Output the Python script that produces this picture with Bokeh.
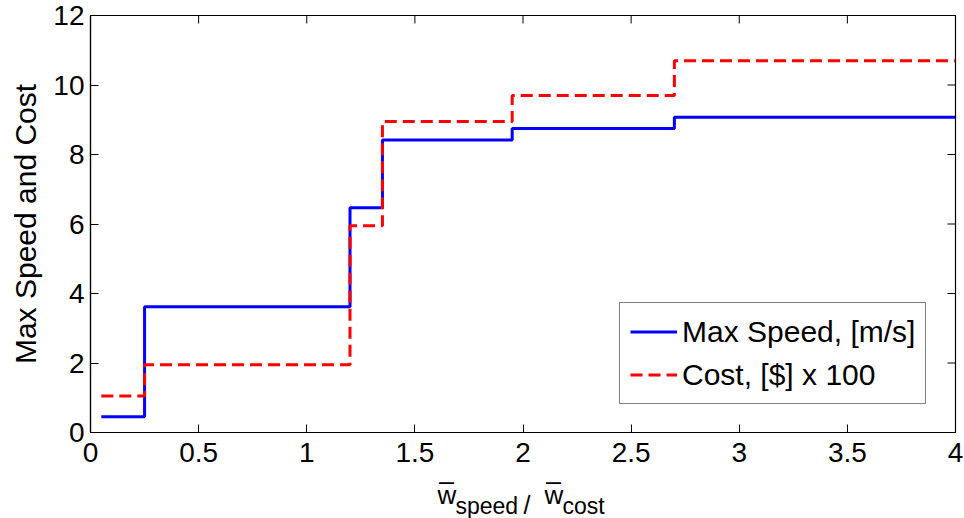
import math
from bokeh.plotting import figure
from bokeh.layouts import column
from bokeh.models import Range1d, FixedTicker, Legend, LegendItem
from bokeh.core.properties import value
from bokeh.embed import file_html
from bokeh.resources import INLINE

# ---- data ----
x_steps = [0.05, 0.25, 1.2, 1.35, 1.95, 2.7, 4.0]
max_speed = [0.45, 3.62, 6.47, 8.42, 8.75, 9.07, 9.07]
cost_x100 = [1.05, 1.95, 5.95, 8.95, 9.70, 10.70, 10.70]

x_ticks = [0, 0.5, 1, 1.5, 2, 2.5, 3, 3.5, 4]
x_tick_labels = ["0", "0.5", "1", "1.5", "2", "2.5", "3", "3.5", "4"]
y_ticks = [0, 2, 4, 6, 8, 10, 12]
y_tick_labels = ["0", "2", "4", "6", "8", "10", "12"]

series_names = ["Max Speed, [m/s]", "Cost, [$] x 100"]
y_label = "Max Speed and Cost"
x_label_parts = ["w\u0305", "speed", "/", "w\u0305", "cost"]

FONT = "Liberation Sans"
X0, X1, Y0, Y1 = 0, 4, 0, 12

p = figure(width=964, height=478, output_backend="svg", toolbar_location=None,
           x_range=Range1d(X0, X1), y_range=Range1d(Y0, Y1),
           min_border_left=90, min_border_right=9, min_border_top=15, min_border_bottom=46)
p.background_fill_color = "white"
p.border_fill_color = "white"
p.outline_line_color = "black"
p.outline_line_width = 1.2
p.xgrid.visible = False
p.ygrid.visible = False

def style_axis(ax, ticks, labels):
    ax.ticker = FixedTicker(ticks=ticks)
    ax.major_label_overrides = {t: l for t, l in zip(ticks, labels)}
    ax.major_tick_in = 8
    ax.major_tick_out = 0
    ax.minor_tick_line_color = None
    ax.axis_line_color = "black"
    ax.axis_line_width = 1.2
    ax.major_tick_line_color = "black"
    ax.major_tick_line_width = 1
    ax.major_label_text_font = FONT
    ax.major_label_text_color = "black"
    ax.major_label_text_font_size = "28px"

style_axis(p.xaxis[0], x_ticks, x_tick_labels)
style_axis(p.yaxis[0], y_ticks, y_tick_labels)
p.xaxis[0].major_label_standoff = 10
p.yaxis[0].major_label_standoff = 6
p.yaxis[0].axis_label = y_label
p.yaxis[0].axis_label_text_font = FONT
p.yaxis[0].axis_label_text_font_size = "30px"
p.yaxis[0].axis_label_text_font_style = "normal"
p.yaxis[0].axis_label_text_color = "black"
p.yaxis[0].axis_label_standoff = 8

# inward ticks on the top and right edges of the box (half of each dash is clipped by the frame)
p.scatter(x=x_ticks, y=[Y1] * len(x_ticks), marker="dash", size=16, angle=math.pi / 2,
          line_color="black", line_width=1)
p.scatter(x=[X1] * len(y_ticks), y=y_ticks, marker="dash", size=16,
          line_color="black", line_width=1)

r_speed = p.step(x_steps, max_speed, mode="after", line_color="#0000FF", line_width=3)
r_cost = p.step(x_steps, cost_x100, mode="after", line_color="#FF0000", line_width=3,
                line_dash="12 6")

legend = Legend(items=[LegendItem(label=series_names[0], renderers=[r_speed]),
                       LegendItem(label=series_names[1], renderers=[r_cost])],
                location=(529, 28))
legend.label_text_font = FONT
legend.label_text_font_size = "30px"
legend.label_text_color = "black"
legend.glyph_width = 47
legend.glyph_height = 37
legend.label_height = 37
legend.label_standoff = 5
legend.padding = 10
legend.spacing = 6
legend.margin = 0
legend.border_line_color = "black"
legend.border_line_width = 1
legend.background_fill_color = "white"
legend.background_fill_alpha = 1
p.add_layout(legend, "center")

# ---- x-axis label strip: w̄_speed / w̄_cost ----
q = figure(width=964, height=40, output_backend="svg", toolbar_location=None,
           x_range=p.x_range, y_range=Range1d(0, 40),
           min_border_left=90, min_border_right=9, min_border_top=0, min_border_bottom=0,
           x_axis_location=None, y_axis_location=None)
q.outline_line_color = None
q.xgrid.visible = False
q.ygrid.visible = False
q.background_fill_color = "white"
q.border_fill_color = "white"

def px_to_x(px):
    # page pixel -> data x (frame from page x=90 to x=955)
    return (px - 90) / 865 * (X1 - X0)

main_y, sub_y = 24, 13
part_x = [px_to_x(v) for v in (437, 455, 523, 544, 562)]
part_y = [main_y, sub_y, sub_y + 1, main_y, sub_y]
part_size = ["26px", "23px", "25px", "26px", "23px"]
q.text(x=part_x, y=part_y, text=x_label_parts, text_font=value(FONT),
       text_font_size=part_size, text_color="black",
       text_align="left", text_baseline="alphabetic")

layout = column(p, q, spacing=0)
open("out.html", "w").write(file_html(layout, INLINE))
